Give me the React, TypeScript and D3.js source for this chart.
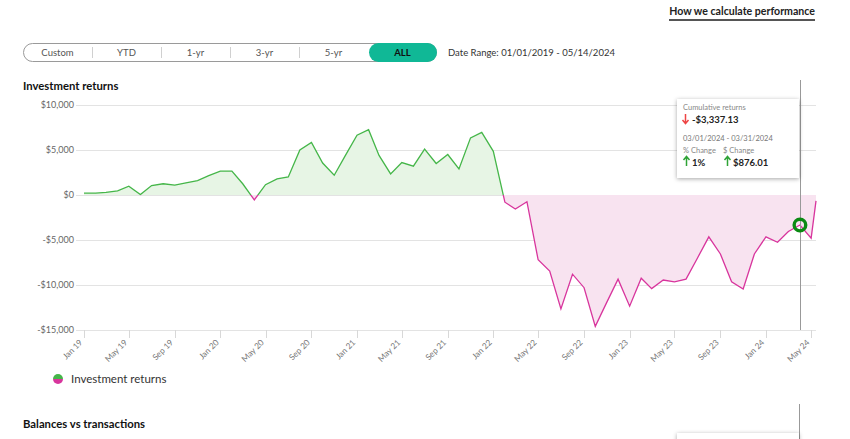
import React from "react";
import * as d3 from "d3";

const segments = ["Custom", "YTD", "1-yr", "3-yr", "5-yr", "ALL"];
const selectedSegment = "ALL";
const dateRangeText = "Date Range: 01/01/2019 - 05/14/2024";
const chartTitle = "Investment returns";
const nextTitle = "Balances vs transactions";
const linkText = "How we calculate performance";
const legendLabel = "Investment returns";

// monthly cumulative returns (Jan 2019 ... May 2024) + last day
const returnValues = [
  200, 200, 300, 450, 970, 50, 1050, 1250, 1100, 1350, 1600, 2150,
  2650, 2650, 1250, -550, 1150, 1800, 2000, 5000, 5850, 3550, 2200, 4400,
  6650, 7250, 4400, 2350, 3600, 3200, 5100, 3500, 4500, 2900, 6350, 6950,
  4850, -800, -1550, -750, -7200, -8450, -12650, -8800, -10300, -14600, -11900, -9350,
  -12350, -9250, -10400, -9450, -9650, -9350, -7050, -4650, -6550, -9650, -10450, -6550,
  -4650, -5250, -4050, -3337.13, -4800, -650,
];
const startDate = "2019-01-01";
const lastMonthDate = "2024-05-01";
const endDate = "2024-05-14";
const yTicks = [10000, 5000, 0, -5000, -10000, -15000];
const hoverIndex = 63;
const tooltipTitle = "Cumulative returns";
const tooltipValue = "-$3,337.13";
const tooltipPeriod = "03/01/2024 - 03/31/2024";
const tooltipPctLabel = "% Change";
const tooltipDolLabel = "$ Change";
const tooltipPct = "1%";
const tooltipDol = "$876.01";

const parse = d3.timeParse("%Y-%m-%d");
const dates: Date[] = [
  ...d3.timeMonth.range(parse(startDate)!, d3.timeDay.offset(parse(lastMonthDate)!, 1)),
  parse(endDate)!,
];
const data = dates.map((d, i) => ({ date: d, value: returnValues[i] }));

const FONT = "Lato, 'Open Sans', sans-serif";
const GREEN = "#45b649";
const GREEN_FILL = "#e7f5e5";
const PINK = "#d8359d";
const PINK_FILL = "#f8e3f0";

export default function App() {
  const left = 84, right = 816, top = 105, bottom = 330;
  const x = d3.scaleTime().domain([parse(startDate)!, parse(endDate)!]).range([left, right]);
  const y = d3.scaleLinear().domain([-15000, 10000]).range([bottom, top]);
  const y0 = y(0);
  const line = d3.line<any>().x((d) => x(d.date)).y((d) => y(d.value));
  const area = d3.area<any>().x((d) => x(d.date)).y0(y0).y1((d) => y(d.value));
  const xTicks = x.ticks(d3.timeMonth.every(4)!);
  const fmt = d3.timeFormat("%b %y");
  const yFmt = (v: number) => (v < 0 ? "-$" : "$") + d3.format(",")(Math.abs(v));
  const segW = 69;
  const segX = 23;
  const hp = data[hoverIndex];
  const hx = x(hp.date);
  const hy = y(hp.value);
  const tipX = 677, tipY = 99, tipW = 122, tipH = 79;

  return (
    <svg
      width={850}
      height={439}
      style={{ position: "absolute", left: 0, top: 0, display: "block", background: "#fff" }}
      fontFamily={FONT}
    >
      <defs>
        <clipPath id="above">
          <rect x={0} y={0} width={850} height={y0} />
        </clipPath>
        <clipPath id="below">
          <rect x={0} y={y0} width={850} height={439 - y0} />
        </clipPath>
        <filter id="shadow" x="-20%" y="-20%" width="140%" height="140%">
          <feDropShadow dx="0" dy="1" stdDeviation="2" floodColor="#000" floodOpacity="0.35" />
        </filter>
      </defs>

      {/* top link */}
      <text x={815} y={15} textAnchor="end" fontSize={10.6} fontWeight={700} fill="#222">
        {linkText}
      </text>
      <rect x={669} y={19} width={146} height={2} fill="#555" />

      {/* segment control */}
      <rect x={segX + 0.5} y={43.5} width={segW * 6 - 1} height={18} rx={9} fill="#fff" stroke="#9a9a9a" />
      {segments.map((s, i) =>
        s === selectedSegment ? (
          <rect key={"sel" + i} x={segX + segW * i + 1} y={43} width={segW - 1} height={19} rx={9.5} fill="#10b896" />
        ) : null
      )}
      {segments.slice(1, 5).map((s, i) => (
        <line key={"div" + i} x1={segX + segW * (i + 1) + 0.5} x2={segX + segW * (i + 1) + 0.5} y1={47} y2={58} stroke="#d0d0d0" />
      ))}
      {segments.map((s, i) => (
        <text
          key={"seg" + i}
          x={segX + segW * i + segW / 2}
          y={56}
          textAnchor="middle"
          fontSize={9.5}
          fontWeight={s === selectedSegment ? 700 : 400}
          fill={s === selectedSegment ? "#111" : "#555"}
        >
          {s}
        </text>
      ))}
      <text x={448} y={56} fontSize={9.5} fill="#333">
        {dateRangeText}
      </text>

      {/* title */}
      <text x={23} y={90} fontSize={11.3} fontWeight={700} fill="#111">
        {chartTitle}
      </text>

      {/* grid */}
      {yTicks.map((t) => (
        <g key={"y" + t}>
          <line x1={76} x2={right} y1={Math.round(y(t)) + 0.5} y2={Math.round(y(t)) + 0.5} stroke="#e3e3e3" />
          <text x={74} y={y(t) + 3} textAnchor="end" fontSize={9} fill="#666">
            {yFmt(t)}
          </text>
        </g>
      ))}

      {/* areas and lines */}
      <path d={area(data)!} fill={GREEN_FILL} clipPath="url(#above)" />
      <path d={area(data)!} fill={PINK_FILL} clipPath="url(#below)" />
      <path d={line(data)!} fill="none" stroke={GREEN} strokeWidth={1.3} clipPath="url(#above)" />
      <path d={line(data)!} fill="none" stroke={PINK} strokeWidth={1.3} clipPath="url(#below)" />

      {/* x axis ticks */}
      {xTicks.map((t, i) => (
        <g key={"x" + i}>
          <line x1={Math.round(x(t)) + 0.5} x2={Math.round(x(t)) + 0.5} y1={bottom} y2={bottom + 8} stroke="#d8d8d8" />
          <text
            transform={`translate(${x(t) - 1},${bottom + 13}) rotate(-45)`}
            textAnchor="end"
            fontSize={8.3}
            fill="#777"
          >
            {fmt(t)}
          </text>
        </g>
      ))}

      {/* hover line + point */}
      <line x1={Math.round(hx) + 0.5} x2={Math.round(hx) + 0.5} y1={80} y2={bottom} stroke="#999" />
      <circle cx={hx} cy={hy} r={5.8} fill="none" stroke="#0b8a13" strokeWidth={3.4} />

      {/* tooltip */}
      <rect x={tipX} y={tipY} width={tipW} height={tipH} fill="#fff" filter="url(#shadow)" />
      <text x={tipX + 6} y={tipY + 11} fontSize={7.5} fill="#888">
        {tooltipTitle}
      </text>
      <path
        d={`M${tipX + 8.5},${tipY + 15} V${tipY + 24} M${tipX + 5.5},${tipY + 21} L${tipX + 8.5},${tipY + 24.5} L${tipX + 11.5},${tipY + 21}`}
        stroke="#ee4444"
        strokeWidth={1.5}
        fill="none"
      />
      <text x={tipX + 15} y={tipY + 24} fontSize={9.5} fontWeight={700} fill="#222">
        {tooltipValue}
      </text>
      <text x={tipX + 6} y={tipY + 42} fontSize={7.5} fill="#777">
        {tooltipPeriod}
      </text>
      <text x={tipX + 6} y={tipY + 54} fontSize={7.5} fill="#888">
        {tooltipPctLabel}
      </text>
      <text x={tipX + 46} y={tipY + 54} fontSize={7.5} fill="#888">
        {tooltipDolLabel}
      </text>
      <path
        d={`M${tipX + 9.5},${tipY + 67} V${tipY + 58} M${tipX + 6.5},${tipY + 61} L${tipX + 9.5},${tipY + 57.5} L${tipX + 12.5},${tipY + 61}`}
        stroke="#2fa336"
        strokeWidth={1.5}
        fill="none"
      />
      <text x={tipX + 15} y={tipY + 67} fontSize={9.5} fontWeight={700} fill="#222">
        {tooltipPct}
      </text>
      <path
        d={`M${tipX + 50.5},${tipY + 67} V${tipY + 58} M${tipX + 47.5},${tipY + 61} L${tipX + 50.5},${tipY + 57.5} L${tipX + 53.5},${tipY + 61}`}
        stroke="#2fa336"
        strokeWidth={1.5}
        fill="none"
      />
      <text x={tipX + 56} y={tipY + 67} fontSize={9.5} fontWeight={700} fill="#222">
        {tooltipDol}
      </text>

      {/* legend */}
      <path d="M53,379 A5,5 0 0 1 63,379 Z" fill={GREEN} />
      <path d="M53,379 A5,5 0 0 0 63,379 Z" fill={PINK} />
      <text x={71} y={383} fontSize={11.5} fill="#333">
        {legendLabel}
      </text>

      {/* next section */}
      <text x={23} y={428} fontSize={11.3} fontWeight={700} fill="#111">
        {nextTitle}
      </text>
      <line x1={799.5} x2={799.5} y1={404} y2={439} stroke="#999" />
      <rect x={677} y={433} width={122} height={20} fill="#fff" filter="url(#shadow)" />
    </svg>
  );
}
